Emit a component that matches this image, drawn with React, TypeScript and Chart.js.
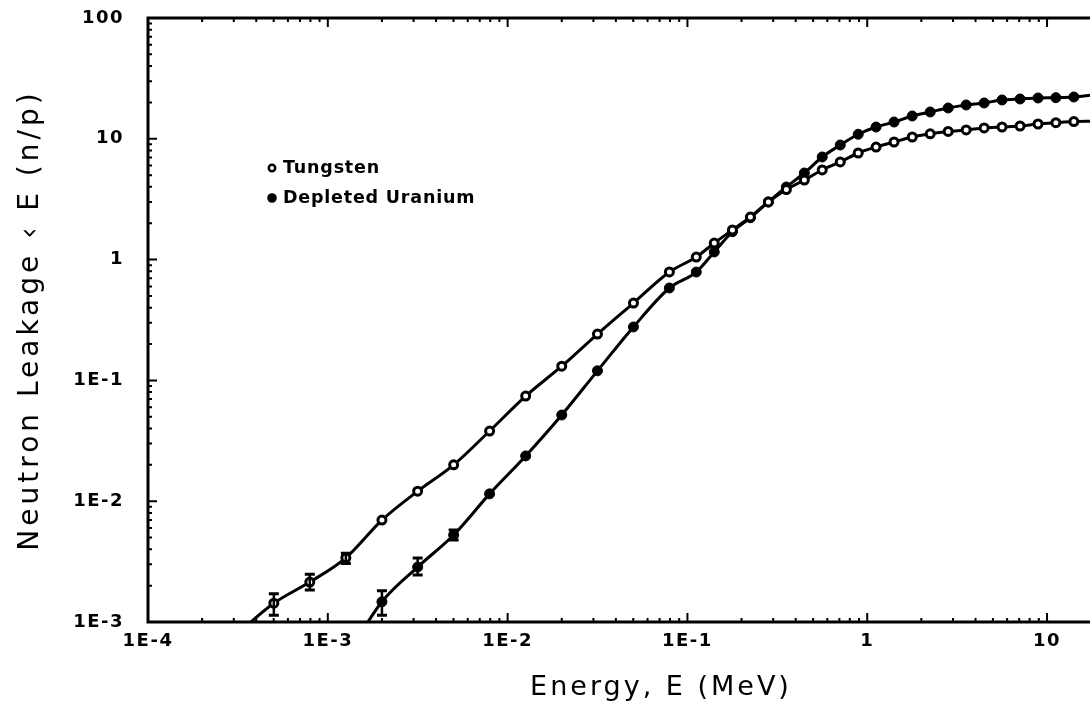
import React, { useEffect, useRef } from 'react';
import { Chart, registerables } from 'chart.js';

Chart.register(...registerables);

// ---- axes ----
const X_TICKS = [1e-4, 1e-3, 1e-2, 1e-1, 1, 10];
const X_TICK_LABELS = ['1E-4', '1E-3', '1E-2', '1E-1', '1', '10'];
const Y_TICKS = [1e-3, 1e-2, 1e-1, 1, 10, 100];
const Y_TICK_LABELS = ['1E-3', '1E-2', '1E-1', '1', '10', '100'];
const X_MIN = 1e-4;
const X_MAX = 15.85;
const Y_MIN = 1e-3;
const Y_MAX = 100;

const X_TITLE = 'Energy, E (MeV)';
const Y_TITLE = 'Neutron Leakage \u2039 E (n/p)';
const SERIES_NAMES = ['Tungsten', 'Depleted Uranium'];

// ---- Tungsten (open circles) ----
const TUNGSTEN_E = [
  3.16e-4, 5.01e-4, 7.94e-4, 1.26e-3, 2.0e-3, 3.16e-3, 5.01e-3, 7.94e-3,
  1.26e-2, 2.0e-2, 3.16e-2, 5.01e-2, 7.94e-2,
  0.112, 0.141, 0.178, 0.224, 0.282, 0.355, 0.447, 0.562, 0.708, 0.891,
  1.12, 1.41, 1.78, 2.24, 2.82, 3.55, 4.47, 5.62, 7.08, 8.91, 11.2, 14.1, 17.8,
];
const TUNGSTEN_V = [
  8.1e-4, 1.43e-3, 2.14e-3, 3.4e-3, 6.98e-3, 1.21e-2, 2.0e-2, 3.81e-2,
  7.42e-2, 0.131, 0.242, 0.437, 0.79,
  1.05, 1.37, 1.76, 2.25, 3.0, 3.8, 4.56, 5.52, 6.43, 7.63,
  8.55, 9.41, 10.35, 11.0, 11.5, 11.83, 12.29, 12.52, 12.76, 13.26, 13.6, 13.9, 14.0,
];

// ---- Depleted Uranium (filled circles) ----
const DU_E = [
  1.26e-3, 2.0e-3, 3.16e-3, 5.01e-3, 7.94e-3,
  1.26e-2, 2.0e-2, 3.16e-2, 5.01e-2, 7.94e-2,
  0.112, 0.141, 0.178, 0.224, 0.282, 0.355, 0.447, 0.562, 0.708, 0.891,
  1.12, 1.41, 1.78, 2.24, 2.82, 3.55, 4.47, 5.62, 7.08, 8.91, 11.2, 14.1, 17.8,
];
const DU_V = [
  5.1e-4, 1.47e-3, 2.85e-3, 5.25e-3, 1.15e-2,
  2.37e-2, 5.17e-2, 0.12, 0.277, 0.582,
  0.789, 1.156, 1.7, 2.22, 3.0, 3.99, 5.21, 7.07, 8.88, 10.9,
  12.52, 13.77, 15.44, 16.67, 17.99, 19.05, 19.79, 20.96, 21.36, 21.77, 21.9, 22.18, 23.0,
];

// ---- error bars ----
const TUNGSTEN_ERR_E = [5.01e-4, 7.94e-4, 1.26e-3];
const TUNGSTEN_ERR_LO = [1.14e-3, 1.84e-3, 3.05e-3];
const TUNGSTEN_ERR_HI = [1.71e-3, 2.49e-3, 3.7e-3];
const DU_ERR_E = [2.0e-3, 3.16e-3, 5.01e-3];
const DU_ERR_LO = [1.14e-3, 2.45e-3, 4.78e-3];
const DU_ERR_HI = [1.81e-3, 3.39e-3, 5.78e-3];

const FONT = 'DejaVu Sans';

const framePlugin = {
  id: 'frame',
  beforeDraw(chart: any) {
    chart.ctx.letterSpacing = '1.5px';
  },
  beforeDatasetsDraw(chart: any) {
    const { ctx, chartArea, scales, width } = chart;
    const { left, top, bottom } = chartArea;
    const xs = scales.x;
    const ys = scales.y;
    ctx.save();
    ctx.strokeStyle = '#000';
    ctx.lineWidth = 3;
    ctx.lineCap = 'square';
    ctx.beginPath();
    ctx.moveTo(width + 2, top);
    ctx.lineTo(left, top);
    ctx.lineTo(left, bottom);
    ctx.lineTo(width + 2, bottom);
    ctx.stroke();
    ctx.lineCap = 'butt';
    ctx.lineWidth = 2;
    ctx.beginPath();
    for (let d = -5; d <= 2; d++) {
      for (let m = 1; m <= 9; m++) {
        const v = m * Math.pow(10, d);
        const px = xs.getPixelForValue(v);
        if (v > X_MIN * 1.0001 && px < width) {
          const len = m === 1 ? 9 : 4;
          ctx.moveTo(px, bottom);
          ctx.lineTo(px, bottom - len);
          ctx.moveTo(px, top);
          ctx.lineTo(px, top + len);
        }
        if (v > Y_MIN * 1.0001 && v < Y_MAX * 0.9999) {
          const py = ys.getPixelForValue(v);
          const len = m === 1 ? 9 : 4;
          ctx.moveTo(left, py);
          ctx.lineTo(left + len, py);
        }
      }
    }
    ctx.stroke();
    ctx.restore();
  },
  afterDatasetsDraw(chart: any) {
    const { ctx, scales, chartArea } = chart;
    const xs = scales.x;
    const ys = scales.y;
    ctx.save();
    ctx.strokeStyle = '#000';
    const bars = (E: number[], lo: number[], hi: number[]) => {
      for (let i = 0; i < E.length; i++) {
        const px = xs.getPixelForValue(E[i]);
        const y1 = Math.min(ys.getPixelForValue(lo[i]), chartArea.bottom);
        const y2 = ys.getPixelForValue(hi[i]);
        ctx.lineWidth = 2.5;
        ctx.beginPath();
        ctx.moveTo(px, y1);
        ctx.lineTo(px, y2);
        ctx.stroke();
        ctx.lineWidth = 3;
        ctx.beginPath();
        ctx.moveTo(px - 5, y1);
        ctx.lineTo(px + 5, y1);
        ctx.moveTo(px - 5, y2);
        ctx.lineTo(px + 5, y2);
        ctx.stroke();
      }
    };
    bars(TUNGSTEN_ERR_E, TUNGSTEN_ERR_LO, TUNGSTEN_ERR_HI);
    bars(DU_ERR_E, DU_ERR_LO, DU_ERR_HI);
    ctx.restore();
  },
  afterDraw(chart: any) {
    const { ctx, chartArea } = chart;
    const { left, top, bottom } = chartArea;
    ctx.save();
    ctx.fillStyle = '#000';
    ctx.strokeStyle = '#000';
    // legend
    const lx = left + 124;
    const ly = [top + 150, top + 180];
    ctx.beginPath();
    ctx.lineWidth = 2.5;
    ctx.arc(lx, ly[0], 3.2, 0, Math.PI * 2);
    ctx.fillStyle = '#fff';
    ctx.fill();
    ctx.stroke();
    ctx.fillStyle = '#000';
    ctx.beginPath();
    ctx.arc(lx, ly[1], 4.8, 0, Math.PI * 2);
    ctx.fill();
    ctx.letterSpacing = '0.8px';
    ctx.font = `bold 17.5px "${FONT}"`;
    ctx.textAlign = 'left';
    ctx.textBaseline = 'middle';
    ctx.fillText(SERIES_NAMES[0], lx + 11, ly[0]);
    ctx.fillText(SERIES_NAMES[1], lx + 11, ly[1]);
    // axis titles
    ctx.letterSpacing = '3px';
    ctx.font = `27px "${FONT}"`;
    ctx.textAlign = 'center';
    ctx.fillText(X_TITLE, 661, bottom + 66);
    ctx.letterSpacing = '4px';
    ctx.font = `28px "${FONT}"`;
    ctx.translate(31, (top + bottom) / 2);
    ctx.rotate(-Math.PI / 2);
    ctx.fillText(Y_TITLE, 0, 0);
    ctx.restore();
  },
};

export default function App() {
  const ref = useRef<HTMLCanvasElement | null>(null);
  useEffect(() => {
    const canvas = ref.current;
    if (!canvas) return;
    const tickFont = { family: FONT, size: 18, weight: 'bold' as const };
    const clip = { left: 0, top: 0, right: 12, bottom: 0 };
    const chart = new Chart(canvas, {
      type: 'scatter',
      data: {
        datasets: [
          {
            label: SERIES_NAMES[0],
            data: TUNGSTEN_E.map((e, i) => ({ x: e, y: TUNGSTEN_V[i] })),
            showLine: true,
            borderColor: '#000',
            borderWidth: 3,
            pointRadius: 4,
            pointBorderWidth: 3,
            pointBackgroundColor: '#fff',
            pointBorderColor: '#000',
            cubicInterpolationMode: 'monotone',
            clip,
          },
          {
            label: SERIES_NAMES[1],
            data: DU_E.map((e, i) => ({ x: e, y: DU_V[i] })),
            showLine: true,
            borderColor: '#000',
            borderWidth: 3,
            pointRadius: 5,
            pointBorderWidth: 1,
            pointBackgroundColor: '#000',
            pointBorderColor: '#000',
            cubicInterpolationMode: 'monotone',
            clip,
          },
        ],
      },
      options: {
        animation: false,
        responsive: false,
        devicePixelRatio: 1,
        events: [],
        layout: { padding: { top: 18, right: 0, left: 0, bottom: 0 } },
        plugins: { legend: { display: false }, tooltip: { enabled: false } },
        scales: {
          x: {
            type: 'logarithmic',
            position: 'bottom',
            min: X_MIN,
            max: X_MAX,
            afterBuildTicks: (s: any) => {
              s.ticks = X_TICKS.map((v) => ({ value: v }));
            },
            afterFit: (s: any) => {
              s.height = 89;
              s.paddingLeft = 0;
              s.paddingRight = 0;
              s.paddingTop = 0;
              s.paddingBottom = 0;
            },
            ticks: {
              callback: (_v: any, i: number) => X_TICK_LABELS[i],
              autoSkip: false,
              maxRotation: 0,
              minRotation: 0,
              padding: 9,
              color: '#000',
              font: tickFont,
            },
            grid: { display: false, drawTicks: false },
            border: { display: false },
          },
          y: {
            type: 'logarithmic',
            position: 'left',
            min: Y_MIN,
            max: Y_MAX,
            afterBuildTicks: (s: any) => {
              s.ticks = Y_TICKS.map((v) => ({ value: v }));
            },
            afterFit: (s: any) => {
              s.width = 148;
              s.paddingLeft = 0;
              s.paddingRight = 0;
              s.paddingTop = 0;
              s.paddingBottom = 0;
            },
            ticks: {
              callback: (_v: any, i: number) => Y_TICK_LABELS[i],
              autoSkip: false,
              padding: 24,
              color: '#000',
              font: tickFont,
            },
            grid: { display: false, drawTicks: false },
            border: { display: false },
          },
        },
      },
      plugins: [framePlugin],
    });
    return () => chart.destroy();
  }, []);
  return (
    <div style={{ position: 'absolute', left: 0, top: 0, width: 1090, height: 711, background: '#fff' }}>
      <canvas ref={ref} width={1090} height={711} />
    </div>
  );
}
